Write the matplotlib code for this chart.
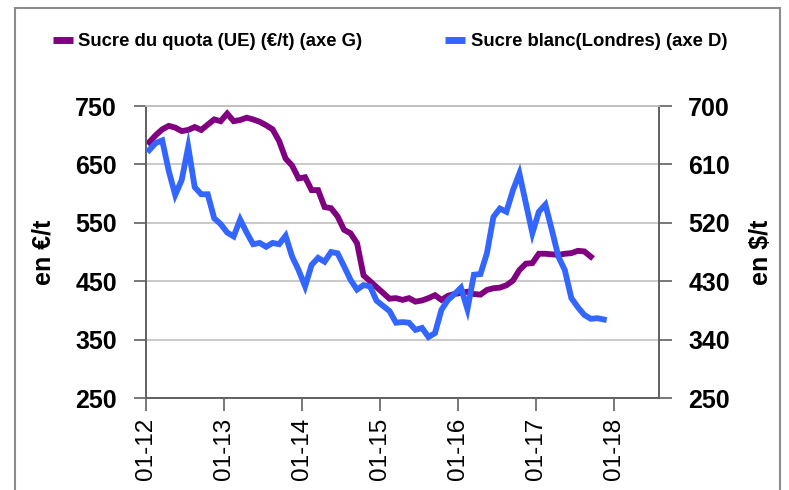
import numpy as np
import matplotlib
matplotlib.use("Agg")
import matplotlib.pyplot as plt
from matplotlib.lines import Line2D
from matplotlib.patches import Rectangle

plt.rcParams['font.family'] = ['Liberation Sans', 'DejaVu Sans']

# monthly values, starting January 2012
quota_eu = [688, 700, 710, 716, 713, 707, 709, 714, 709, 718, 727, 724,
            737, 724, 726, 730, 727, 723, 717, 710, 690, 660, 648, 626,
            628, 606, 606, 577, 575, 561, 538, 532, 515, 460, 450, 440,
            430, 420, 421, 418, 421, 415, 417, 421, 426, 418, 425, 428,
            430, 432, 428, 427, 435, 438, 439, 443, 451, 469, 480, 481,
            497, 497, 496, 495, 497, 498, 502, 501, 492]

white_london = [632, 643, 647, 600, 563, 586, 637, 575, 564, 564, 527, 518,
                505, 499, 525, 505, 487, 489, 483, 489, 487, 500, 468, 447,
                422, 455, 466, 460, 475, 473, 453, 432, 417, 424, 422, 400,
                392, 384, 366, 367, 366, 355, 358, 344, 350, 386, 401, 410,
                420, 387, 440, 441, 473, 529, 542, 537, 570, 596, 550, 504,
                537, 548, 509, 468, 447, 404, 390, 378, 372, 373, 371]

tick_labels = ['01-12', '01-13', '01-14', '01-15', '01-16', '01-17', '01-18']
left_ticks = [250, 350, 450, 550, 650, 750]
right_ticks = [250, 340, 430, 520, 610, 700]

purple = '#800080'
blue = '#3366ff'

fig = plt.figure(figsize=(7.89, 4.90), dpi=100)
ax = fig.add_axes([146 / 789, 1 - 398 / 490, 513 / 789, 292 / 490])
ax2 = ax.twinx()

x1 = np.arange(len(quota_eu)) + 0.5
x2 = np.arange(len(white_london)) + 0.5
ax.plot(x1, quota_eu, color=purple, lw=4.2, solid_joinstyle='miter', zorder=3)
ax2.plot(x2, white_london, color=blue, lw=4.2, solid_joinstyle='miter', zorder=3)

ax.set_xlim(0, 79)
ax.set_ylim(250, 750)
ax2.set_ylim(250, 700)
ax.set_yticks(left_ticks)
ax2.set_yticks(right_ticks)
ax.set_xticks(np.arange(len(tick_labels)) * 12)
ax.set_xticklabels(tick_labels, rotation=90)

ax.yaxis.grid(True, color='#c0c0c0', lw=1.2)
ax.set_axisbelow(True)

for a in (ax, ax2):
    for s in a.spines.values():
        s.set_color('#606060')
        s.set_linewidth(1.2)
    a.spines['top'].set_color('#c0c0c0')
    a.tick_params(direction='out', length=9, width=1.2, color='#606060')

ax.tick_params(axis='y', labelsize=18, pad=12)
ax2.tick_params(axis='y', labelsize=18, pad=12)
for lab in ax.get_yticklabels() + ax2.get_yticklabels():
    lab.set_fontweight('bold')
ax.tick_params(axis='x', labelsize=17.5, pad=5)

ax.set_ylabel('en €/t', fontsize=18, fontweight='bold', labelpad=14)
ax2.set_ylabel('en $/t', fontsize=18, fontweight='bold', labelpad=14)

handles = [Line2D([], [], color=purple, lw=5, solid_capstyle='butt'),
           Line2D([], [], color=blue, lw=5, solid_capstyle='butt')]
fig.legend(handles, ['Sucre du quota (UE) (€/t) (axe G)', 'Sucre blanc(Londres) (axe D)'],
           loc='center left', bbox_to_anchor=(36 / 789, 1 - 42 / 490), ncol=2,
           frameon=False, handlelength=1.08, handletextpad=0.32, columnspacing=4.45,
           prop={'size': 13.3, 'weight': 'bold'})

fig.patches.append(Rectangle((15 / 789, -0.1), 765 / 789, 1.1 - 8 / 490,
                             transform=fig.transFigure, fill=False,
                             edgecolor='#8c8c8c', lw=1.5))

fig.savefig('out.png', dpi=100)
